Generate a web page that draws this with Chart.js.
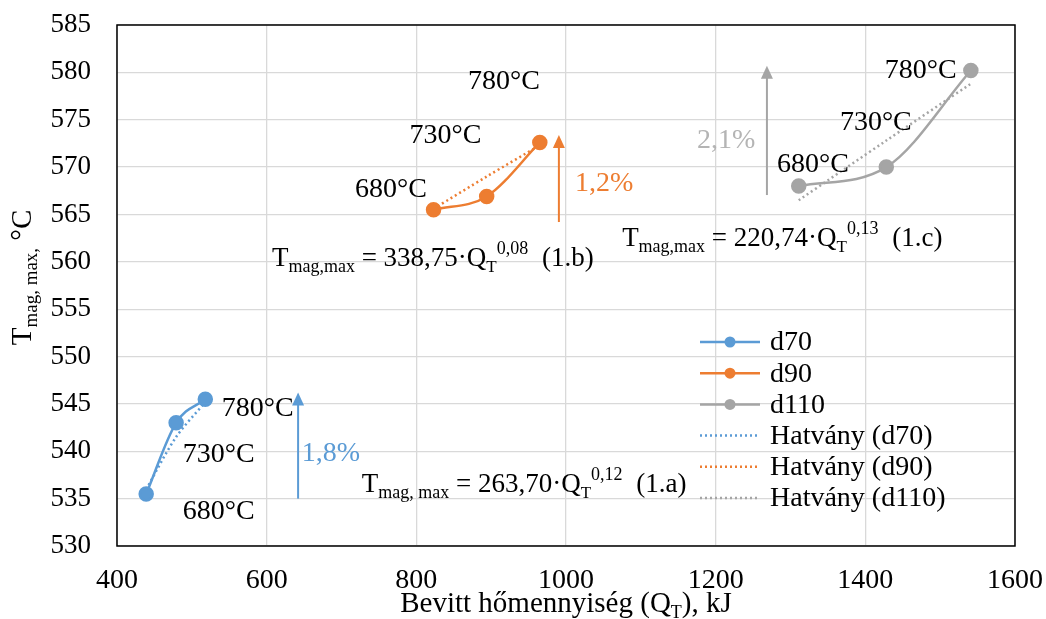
<!DOCTYPE html>
<html><head><meta charset="utf-8">
<script src="https://cdn.jsdelivr.net/npm/chart.js@4.4.0/dist/chart.umd.min.js"></script>
<style>html,body{margin:0;padding:0;background:#fff}#wrap{width:1046px;height:619px}</style>
</head><body><div id="wrap"><canvas id="c" width="1046" height="619"></canvas></div>
<script>
const xTicks = [400, 600, 800, 1000, 1200, 1400, 1600];
const yTicks = [530, 535, 540, 545, 550, 555, 560, 565, 570, 575, 580, 585];
const seriesNames = ['d70', 'd90', 'd110'];
const d70Q = [439, 479, 518];
const d70T = [535.5, 543.0, 545.5];
const d90Q = [823, 894, 965];
const d90T = [565.5, 566.9, 572.6];
const d110Q = [1311, 1428, 1541];
const d110T = [568.0, 570.0, 580.2];
const trend70T = [536.0, 541.5, 545.2];
const trend90T = [565.6, 569.0, 572.3];
const trend110T = [566.5, 572.8, 578.8];
const tempLabels = ['680°C', '730°C', '780°C'];
const pctLabels = ['1,8%', '1,2%', '2,1%'];
const eqCoef = ['263,70', '338,75', '220,74'];
const eqExp = ['0,12', '0,08', '0,13'];
const eqTag = ['(1.a)', '(1.b)', '(1.c)'];

const colors = ['#5B9BD5', '#ED7D31', '#A5A5A5'];
const FONT = '"Liberation Serif", "Times New Roman", serif';

const pts = (xs, ys) => xs.map((x, i) => ({x, y: ys[i]}));
const Qs = [d70Q, d90Q, d110Q];
const Ts = [d70T, d90T, d110T];
const TRs = [trend70T, trend90T, trend110T];

const datasets = [];
for (let i = 0; i < 3; i++) {
  datasets.push({label: seriesNames[i], data: pts(Qs[i], Ts[i]), borderColor: colors[i], backgroundColor: colors[i],
    borderWidth: 2.5, pointRadius: 6.5, pointHoverRadius: 6.5, tension: 0.45, cubicInterpolationMode: 'monotone', order: 1});
}
for (let i = 0; i < 3; i++) {
  datasets.push({label: 'Hatvány (' + seriesNames[i] + ')', data: pts(Qs[i], TRs[i]), borderColor: colors[i],
    borderWidth: 2.5, borderDash: [2, 3], pointRadius: 0, tension: 0.3, order: 2});
}

// annotation positions in data units
const tempPos = [
  [[488, 532.9], [488, 538.9], [540, 543.75]],
  [[718, 566.8], [791, 572.5], [869, 578.2]],
  [[1282, 569.5], [1366, 573.9], [1426, 579.4]]
];
const pctPos = [[647, 539.0], [1012, 567.5], [1175, 572.0]];
const pctColors = ['#5B9BD5', '#ED7D31', '#B4B4B4'];
const arrowPos = [[642, 535.0, 546.2], [990.5, 564.2, 573.4], [1268.5, 567.05, 580.7]];
const eqPos = [[727, 535.7], [607, 559.6], [1075, 561.7]];
const eqSub = ['mag, max', 'mag,max', 'mag,max'];

const MAIN = 27, SUB = 18;

function drawRich(ctx, x, y, segs) {
  let cx = x;
  for (const s of segs) {
    const size = s.size || MAIN;
    ctx.font = size + 'px ' + FONT;
    ctx.fillStyle = s.color || '#000';
    ctx.textBaseline = 'alphabetic';
    ctx.textAlign = 'left';
    ctx.fillText(s.t, cx, y + (s.dy || 0));
    cx += ctx.measureText(s.t).width + (s.gap || 0);
  }
  return cx;
}
function richWidth(ctx, segs) {
  let w = 0;
  for (const s of segs) { ctx.font = (s.size || MAIN) + 'px ' + FONT; w += ctx.measureText(s.t).width + (s.gap || 0); }
  return w;
}

const annotPlugin = {
  id: 'annot',
  afterDatasetsDraw(chart) {
    const ctx = chart.ctx, xs = chart.scales.x, ys = chart.scales.y, a = chart.chartArea;
    ctx.save();
    // plot border
    ctx.strokeStyle = '#000'; ctx.lineWidth = 1.5;
    ctx.strokeRect(a.left, a.top, a.right - a.left, a.bottom - a.top);
    // arrows
    for (let i = 0; i < 3; i++) {
      const [qx, y0, y1] = arrowPos[i];
      const px = xs.getPixelForValue(qx), pb = ys.getPixelForValue(y0), pt = ys.getPixelForValue(y1);
      ctx.strokeStyle = colors[i]; ctx.fillStyle = colors[i]; ctx.lineWidth = 2;
      ctx.beginPath(); ctx.moveTo(px, pb); ctx.lineTo(px, pt + 10); ctx.stroke();
      ctx.beginPath(); ctx.moveTo(px, pt); ctx.lineTo(px - 6, pt + 13); ctx.lineTo(px + 6, pt + 13); ctx.closePath(); ctx.fill();
    }
    // temperature labels
    ctx.font = '28px ' + FONT; ctx.fillStyle = '#000'; ctx.textAlign = 'left'; ctx.textBaseline = 'alphabetic';
    for (let i = 0; i < 3; i++) for (let j = 0; j < 3; j++) {
      const [qx, ty] = tempPos[i][j];
      ctx.fillText(tempLabels[j], xs.getPixelForValue(qx), ys.getPixelForValue(ty));
    }
    // percentages
    for (let i = 0; i < 3; i++) {
      ctx.fillStyle = pctColors[i];
      ctx.fillText(pctLabels[i], xs.getPixelForValue(pctPos[i][0]), ys.getPixelForValue(pctPos[i][1]));
    }
    // equations
    for (let i = 0; i < 3; i++) {
      const px = xs.getPixelForValue(eqPos[i][0]), py = ys.getPixelForValue(eqPos[i][1]);
      drawRich(ctx, px, py, [
        {t: 'T'}, {t: eqSub[i], size: SUB, dy: 6},
        {t: ' = ' + eqCoef[i] + '·Q'}, {t: 'T', size: 17, dy: 6},
        {t: eqExp[i], size: SUB, dy: -12, gap: 7}, {t: ' ' + eqTag[i]}
      ]);
    }
    // legend
    const lx = 700, ly = 342, step = 31.2;
    for (let k = 0; k < 6; k++) {
      const c = colors[k % 3], y = ly + k * step;
      ctx.strokeStyle = c; ctx.lineWidth = 2.5;
      if (k < 3) {
        ctx.setLineDash([]);
        ctx.beginPath(); ctx.moveTo(lx, y); ctx.lineTo(lx + 60, y); ctx.stroke();
        ctx.fillStyle = c; ctx.beginPath(); ctx.arc(lx + 30, y, 5.5, 0, Math.PI * 2); ctx.fill();
      } else {
        ctx.setLineDash([2, 3]);
        ctx.beginPath(); ctx.moveTo(lx, y); ctx.lineTo(lx + 60, y); ctx.stroke();
        ctx.setLineDash([]);
      }
      ctx.fillStyle = '#000'; ctx.font = '28px ' + FONT; ctx.textBaseline = 'middle';
      ctx.fillText(chart.data.datasets[k].label, lx + 70, y + 1);
    }
    ctx.textBaseline = 'alphabetic';
    // x title
    const xseg = [{t: 'Bevitt hőmennyiség (Q', size: 29}, {t: 'T', size: 18, dy: 6}, {t: '), kJ', size: 29}];
    const xw = richWidth(ctx, xseg);
    drawRich(ctx, (a.left + a.right) / 2 - xw / 2, 612, xseg);
    // y title
    const yseg = [{t: 'T', size: 29}, {t: 'mag, max,', size: 19, dy: 6}, {t: ' °C', size: 29}];
    const yw = richWidth(ctx, yseg);
    ctx.translate(31, (a.top + a.bottom) / 2 - 8);
    ctx.rotate(-Math.PI / 2);
    drawRich(ctx, -yw / 2, 0, yseg);
    ctx.restore();
  }
};

new Chart(document.getElementById('c'), {
  type: 'line',
  data: {datasets},
  options: {
    responsive: false, animation: false, devicePixelRatio: 1,
    layout: {padding: {left: 0, right: 31, top: 25, bottom: 0}},
    plugins: {legend: {display: false}, tooltip: {enabled: false}},
    scales: {
      x: {type: 'linear', min: xTicks[0], max: xTicks[xTicks.length - 1],
        afterBuildTicks: s => { s.ticks = xTicks.map(v => ({value: v})); },
        afterFit: s => { s.height = 73; s.paddingLeft = 0; s.paddingRight = 0; },
        grid: {color: '#d9d9d9', lineWidth: 1.3, drawTicks: false},
        border: {display: false},
        ticks: {color: '#000', font: {family: FONT, size: 28}, padding: 18, maxRotation: 0,
          callback: v => String(v)}},
      y: {type: 'linear', min: yTicks[0], max: yTicks[yTicks.length - 1],
        afterBuildTicks: s => { s.ticks = yTicks.map(v => ({value: v})); },
        afterFit: s => { s.width = 117; s.paddingTop = 0; s.paddingBottom = 0; },
        grid: {color: '#d9d9d9', lineWidth: 1.3, drawTicks: false},
        border: {display: false},
        ticks: {color: '#000', font: {family: FONT, size: 27}, padding: 26,
          callback: v => String(v)}}
    }
  },
  plugins: [annotPlugin]
});
</script></body></html>
